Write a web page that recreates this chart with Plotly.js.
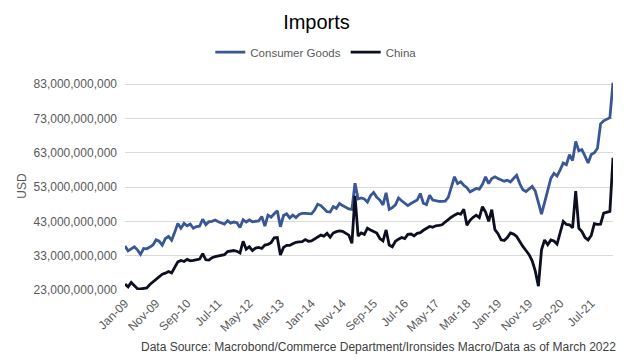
<!DOCTYPE html>
<html>
<head>
<meta charset="utf-8">
<script src="https://cdn.plot.ly/plotly-3.0.1.min.js"></script>
<style>html,body{margin:0;padding:0;background:#fff;}#chart{width:633px;height:359px;}</style>
</head>
<body>
<div id="chart"></div>
<script>
// Monthly values, Jan-2009 .. Feb-2022, in billions of USD
var consumerGoods = [
35.8,34.4,35.0,35.6,34.7,33.4,35.1,35.0,35.5,36.1,
37.6,37.2,36.1,38.0,38.6,37.5,39.8,42.4,41.0,42.4,
41.7,42.2,41.0,41.5,41.6,43.6,42.0,42.9,43.0,43.4,
42.9,42.6,42.2,43.2,42.5,42.8,42.6,41.2,43.5,42.8,
43.4,42.9,43.0,43.1,44.4,41.6,44.8,44.2,45.2,46.1,
41.4,44.7,45.2,44.0,44.8,44.1,45.0,45.3,45.3,45.2,
45.2,46.3,48.0,47.6,46.8,45.8,45.7,47.3,46.8,48.2,
47.6,47.0,46.6,46.5,54.1,49.5,49.8,49.5,48.6,50.5,
51.4,50.0,49.2,47.8,51.3,46.5,47.0,47.8,49.8,49.0,
48.3,47.6,48.2,48.8,49.2,51.1,48.3,47.9,50.6,49.2,
48.9,48.8,48.8,48.9,50.0,53.0,56.0,54.0,54.5,53.5,
52.8,51.6,52.2,52.6,52.4,53.8,56.0,54.0,55.5,56.0,
55.5,55.0,54.7,55.0,54.5,55.5,56.4,54.0,52.2,51.7,
52.4,53.2,51.8,48.0,45.1,48.5,52.3,55.5,57.0,56.2,
58.0,60.0,59.5,62.4,60.7,66.3,63.6,63.9,62.0,60.0,
62.5,63.0,64.3,71.4,72.3,72.8,73.2,83.4
];
var china = [
24.7,23.9,25.2,24.3,23.4,23.3,23.5,23.6,24.6,25.4,
26.0,27.0,27.6,27.9,28.4,28.0,29.5,31.2,31.6,31.3,
31.9,31.5,31.6,31.7,32.0,33.6,31.8,31.7,32.4,32.7,
32.9,33.0,33.3,34.2,34.4,34.5,34.3,33.8,37.2,34.9,
35.6,34.5,35.2,35.4,35.1,36.1,36.3,36.8,38.2,38.3,
33.2,35.4,36.0,36.0,36.5,36.9,37.0,37.1,37.7,37.2,
37.3,37.9,38.6,39.0,38.7,39.5,38.4,39.6,40.0,40.2,
40.1,39.6,39.0,36.6,50.4,38.7,39.6,39.2,41.0,40.5,
40.0,39.6,38.0,37.3,40.5,36.1,35.6,37.2,37.8,38.3,
38.0,39.2,39.3,38.8,39.5,39.7,40.4,41.0,41.5,41.3,
41.7,41.8,42.0,42.8,43.6,44.2,44.8,45.3,45.1,46.5,
41.9,43.3,44.2,44.8,44.1,47.3,45.7,43.0,46.4,40.6,
39.4,37.6,37.4,38.3,39.6,39.3,38.6,37.0,35.7,34.5,
33.3,31.5,28.5,24.1,34.7,37.6,36.2,37.6,37.3,36.4,
39.6,43.0,42.1,42.0,41.1,51.8,41.0,40.0,38.3,37.6,
38.9,42.3,42.1,42.2,45.4,45.6,45.9,61.5
];
var monthNames = ["Jan","Feb","Mar","Apr","May","Jun","Jul","Aug","Sep","Oct","Nov","Dec"];
var startYear = 2009;
var yTickVals = [23e9,33e9,43e9,53e9,63e9,73e9,83e9];
var xTickLabels = ["Jan-09","Nov-09","Sep-10","Jul-11","May-12","Mar-13","Jan-14","Nov-14","Sep-15","Jul-16","May-17","Mar-18","Jan-19","Nov-19","Sep-20","Jul-21"];

var months = [];
for (var i = 0; i < consumerGoods.length; i++) {
  var y = startYear + Math.floor(i / 12);
  months.push(monthNames[i % 12] + "-" + String(y).slice(2));
}
function toUSD(a){ return a.map(function(v){ return v * 1e9; }); }

var traces = [
  {x: months, y: toUSD(consumerGoods), name: "Consumer Goods", type: "scatter", mode: "lines",
   line: {color: "#3A5795", width: 2.8}},
  {x: months, y: toUSD(china), name: "China", type: "scatter", mode: "lines",
   line: {color: "#0B0F1F", width: 2.8}}
];

var grey = "#595959";
var layout = {
  width: 633, height: 359,
  margin: {l: 125, r: 20, t: 82, b: 69},
  paper_bgcolor: "#fff", plot_bgcolor: "#fff",
  font: {family: "Liberation Sans, Arial, sans-serif", color: grey, size: 12},
  title: {text: "Imports", x: 0.5, xref: "container", xanchor: "center",
          y: 0.94, yref: "container", yanchor: "middle",
          font: {size: 20, color: "#000"}},
  showlegend: true,
  legend: {orientation: "h", x: 0.392, xanchor: "center", y: 1.144, yanchor: "middle",
           font: {size: 11.5, color: grey}, itemwidth: 30, tracegroupgap: 0},
  xaxis: {type: "category", range: [0, consumerGoods.length - 1],
          tickmode: "array", tickvals: xTickLabels, ticktext: xTickLabels,
          tickangle: -45, showgrid: false, zeroline: false, showline: false,
          ticks: "", ticklabelstandoff: 3, tickfont: {size: 12, color: grey}},
  yaxis: {range: [23e9, 83.6e9], tickmode: "array", tickvals: yTickVals,
          tickformat: ",d", showgrid: true, gridcolor: "#D9D9D9", gridwidth: 1,
          zeroline: false, showline: false, ticks: "", ticklabelstandoff: 7,
          tickfont: {size: 12, color: grey},
          title: {text: "USD", font: {size: 12, color: grey}, standoff: 4}},
  annotations: [{
    text: "Data Source: Macrobond/Commerce Department/Ironsides Macro/Data as of March 2022",
    xref: "paper", yref: "paper", x: 1.01, xanchor: "right", y: -0.274, yanchor: "middle",
    showarrow: false, font: {size: 12, color: "#404040"}
  }]
};

Plotly.newPlot("chart", traces, layout, {displayModeBar: false, staticPlot: true});
</script>
</body>
</html>
